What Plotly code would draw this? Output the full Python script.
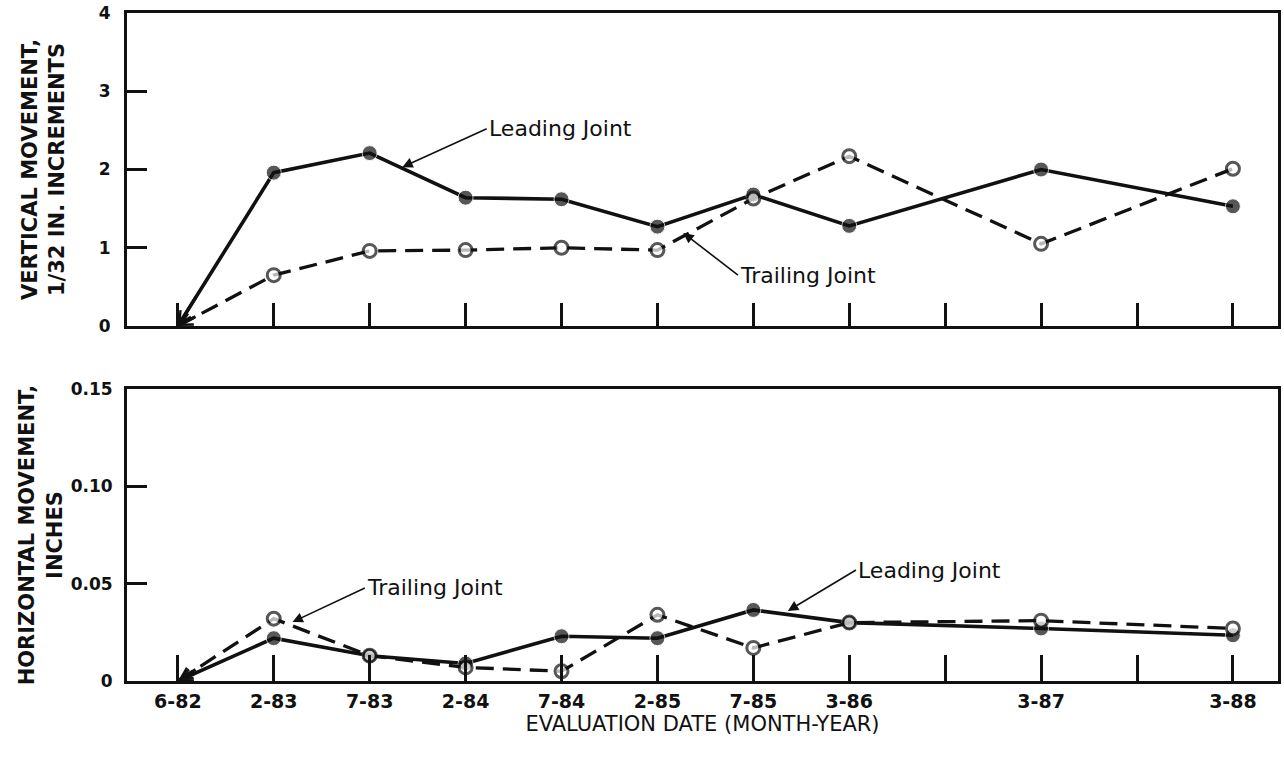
import plotly.graph_objects as go

# ---------------- data ----------------
tick_labels = ["6-82", "2-83", "7-83", "2-84", "7-84", "2-85", "7-85", "3-86", "", "3-87", "", "3-88"]
tick_pos = list(range(len(tick_labels)))
# evaluation dates placed on the tick positions
eval_pos = [0, 1, 2, 3, 4, 5, 6, 7, 9, 11]

vert_leading = [0, 1.96, 2.21, 1.64, 1.62, 1.27, 1.68, 1.28, 2.00, 1.53]
vert_trailing = [0, 0.65, 0.96, 0.97, 1.00, 0.97, 1.63, 2.17, 1.05, 2.01]

horiz_leading = [0, 0.022, 0.013, 0.009, 0.023, 0.022, 0.0365, 0.030, 0.027, 0.0235]
horiz_trailing = [0, 0.032, 0.013, 0.007, 0.005, 0.034, 0.017, 0.030, 0.031, 0.027]

# ---------------- styling ----------------
BLACK = "#111111"
FONT = "DejaVu Sans"

fig = go.Figure()


def add_series(xa, ya, vals, leading):
    n = len(vals)
    if leading:
        fig.add_trace(go.Scatter(
            x=eval_pos, y=vals, xaxis=xa, yaxis=ya, mode="lines+markers",
            line=dict(color=BLACK, width=3.6),
            marker=dict(symbol="circle", size=[0] + [15] * (n - 1), color=BLACK,
                        line=dict(color="white", width=1)),
            showlegend=False, hoverinfo="skip"))
    else:
        fig.add_trace(go.Scatter(
            x=eval_pos, y=vals, xaxis=xa, yaxis=ya, mode="lines+markers",
            line=dict(color=BLACK, width=3.3, dash="18px,9px"),
            marker=dict(symbol="circle", size=[0] + [13] * (n - 1), color="white",
                        line=dict(color=BLACK, width=3)),
            showlegend=False, hoverinfo="skip"))
    # open arrowhead at the origin point (start of each curve)
    f = 0.2
    fig.add_annotation(
        x=eval_pos[0], y=vals[0], xref=xa, yref=ya,
        ax=eval_pos[0] + f * (eval_pos[1] - eval_pos[0]),
        ay=vals[0] + f * (vals[1] - vals[0]),
        axref=xa, ayref=ya, text="", showarrow=True,
        arrowhead=5, arrowsize=0.8, arrowwidth=3, arrowcolor=BLACK)


add_series("x2", "y2", vert_leading, True)
add_series("x2", "y2", vert_trailing, False)
add_series("x", "y", horiz_leading, True)
add_series("x", "y", horiz_trailing, False)

label_font = dict(family=FONT, size=22, color=BLACK)


def label(text, xa, ya, hx, hy, tx, ty):
    fig.add_annotation(
        x=hx, y=hy, xref=xa, yref=ya, ax=tx, ay=ty, axref=xa, ayref=ya,
        text=text, showarrow=True, arrowhead=2, arrowsize=1.3, arrowwidth=1.6,
        arrowcolor=BLACK, xanchor="left", yanchor="middle", font=label_font)


label("Leading Joint", "x2", "y2", 2.34, 2.03, 3.22, 2.52)
label("Trailing Joint", "x2", "y2", 5.27, 1.19, 5.84, 0.65)
label("Trailing Joint", "x", "y", 1.195, 0.0303, 1.95, 0.0478)
label("Leading Joint", "x", "y", 6.36, 0.0360, 7.07, 0.0570)

xr = [-0.53, 11.47]
common_x = dict(range=xr, tickmode="array", tickvals=tick_pos, ticks="inside",
                tickwidth=3, tickcolor=BLACK, showline=True, linewidth=3,
                linecolor=BLACK, mirror=True, showgrid=False, zeroline=False)
common_y = dict(ticks="inside", ticklen=20, tickwidth=3, tickcolor=BLACK,
                showline=True, linewidth=3, linecolor=BLACK, mirror=True,
                showgrid=False, zeroline=False,
                tickfont=dict(family=FONT, size=17, color=BLACK, weight="bold"))
title_font = dict(family=FONT, size=21, color=BLACK, weight="bold")

fig.update_layout(
    width=1284, height=759,
    margin=dict(l=127, r=3, t=13, b=78),
    paper_bgcolor="white", plot_bgcolor="white",
    xaxis=dict(**common_x, anchor="y", ticklen=26, ticktext=tick_labels,
               tickfont=dict(family=FONT, size=19, color=BLACK, weight="bold"),
               ticklabelstandoff=1,
               title=dict(text="EVALUATION DATE (MONTH-YEAR)", standoff=2,
                          font=dict(family=FONT, size=21, color=BLACK))),
    xaxis2=dict(**common_x, anchor="y2", ticklen=23, showticklabels=False,
                matches="x"),
    yaxis=dict(**common_y, domain=[0, 0.4371], range=[0, 0.15],
               tickvals=[0, 0.05, 0.10, 0.15],
               ticktext=["0", "0.05", "0.10", "0.15"], ticklabelstandoff=8,
               title=dict(text="HORIZONTAL MOVEMENT,<br>INCHES", standoff=3,
                          font=title_font)),
    yaxis2=dict(**common_y, domain=[0.5314, 1], range=[0, 4],
                tickvals=[0, 1, 2, 3, 4], ticklabelstandoff=10,
                title=dict(text="VERTICAL MOVEMENT,<br>1/32 IN. INCREMENTS",
                           standoff=29, font=title_font)),
)

fig.write_html("out.html", config={"displayModeBar": False})

# remove the default page margin so the figure sits at the window origin
with open("out.html", "r", encoding="utf-8") as fh:
    html = fh.read()
html = html.replace("<body>", '<body style="margin:0;padding:0;overflow:hidden">', 1)
with open("out.html", "w", encoding="utf-8") as fh:
    fh.write(html)
